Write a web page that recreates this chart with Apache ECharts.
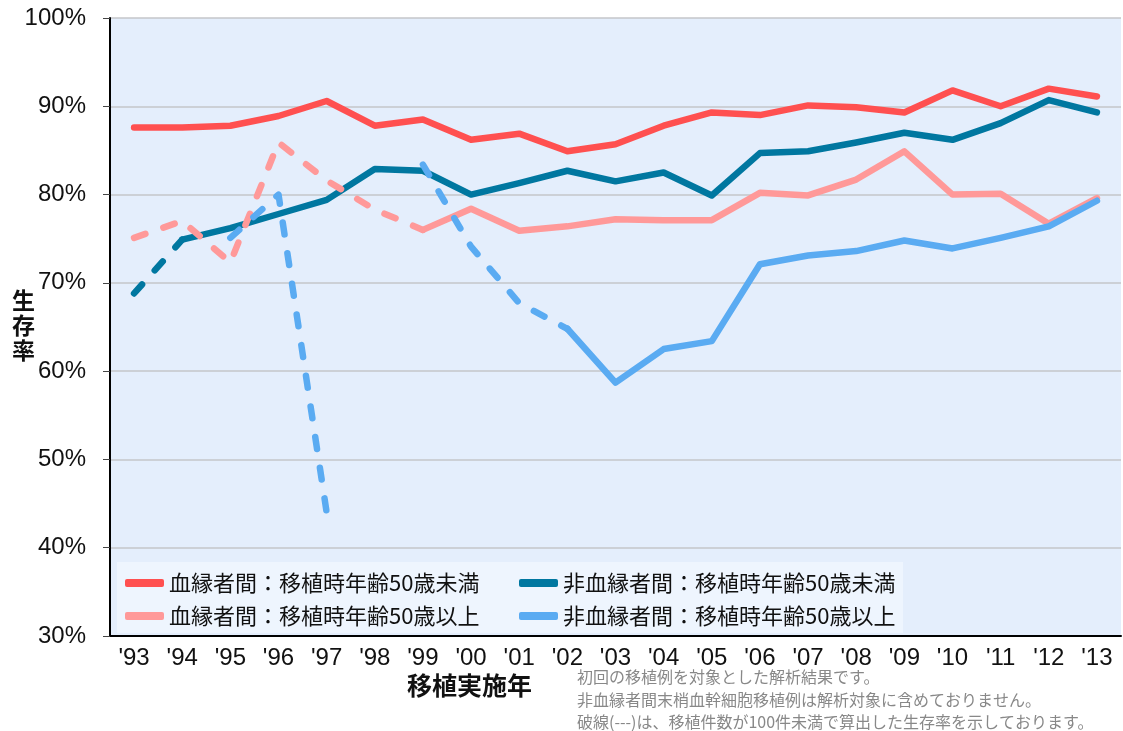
<!DOCTYPE html>
<html>
<head>
<meta charset="utf-8">
<script src="https://cdn.jsdelivr.net/npm/echarts@6/dist/echarts.min.js"></script>
<style>
  html, body { margin: 0; padding: 0; background: #fff; }
  #chart { width: 1123px; height: 731px; }
</style>
</head>
<body>
<div id="chart"></div>
<script>
const years = ["'93", "'94", "'95", "'96", "'97", "'98", "'99", "'00", "'01", "'02", "'03",
  "'04", "'05", "'06", "'07", "'08", "'09", "'10", "'11", "'12", "'13"]

const yTicks = [30, 40, 50, 60, 70, 80, 90, 100]

// 血縁者間：移植時年齢50歳未満
const relatedUnder50 = [87.6, 87.6, 87.8, 88.9, 90.6, 87.8, 88.5, 86.2, 86.9, 84.9, 85.7,
  87.8, 89.3, 89.0, 90.1, 89.9, 89.3, 91.8, 90.0, 92.0, 91.1]
// 非血縁者間：移植時年齢50歳未満
const unrelatedUnder50 = [68.8, 74.9, 76.2, 77.8, 79.4, 82.9, 82.7, 80.0, 81.3, 82.7, 81.5,
  82.5, 79.9, 84.7, 84.9, 85.9, 87.0, 86.2, 88.1, 90.7, 89.3]
// 血縁者間：移植時年齢50歳以上
const relatedOver50 = [75.1, 77.0, 72.3, 85.9, 81.6, 78.3, 76.0, 78.4, 75.9, 76.4, 77.2,
  77.1, 77.1, 80.2, 79.9, 81.7, 84.9, 80.0, 80.1, 76.7, 79.6]
// 非血縁者間：移植時年齢50歳以上
const unrelatedOver50 = [null, null, 75.1, 80.0, 44.0, null, 83.4, 74.1, 67.7, 64.8, 58.7,
  62.5, 63.4, 72.1, 73.1, 73.6, 74.8, 73.9, 75.1, 76.4, 79.3]

// last index drawn dashed (fewer than 100 cases)
const dashEnd = [-1, 1, 6, 9]

const names = [
  '血縁者間：移植時年齢50歳未満',
  '非血縁者間：移植時年齢50歳未満',
  '血縁者間：移植時年齢50歳以上',
  '非血縁者間：移植時年齢50歳以上'
]
const colors = ['#ff5050', '#0077a0', '#ff9999', '#5aabf2']
const allData = [relatedUnder50, unrelatedUnder50, relatedOver50, unrelatedOver50]

const jp = '"Noto Sans CJK JP", "Liberation Sans", sans-serif'
const latin = '"Liberation Sans", Arial, sans-serif'

const series = []
allData.forEach((data, k) => {
  const end = dashEnd[k]
  const base = {
    name: names[k],
    type: 'line',
    symbol: 'none',
    color: colors[k],
    connectNulls: false,
    z: 2 + k,
    emphasis: { disabled: true }
  }
  series.push(Object.assign({}, base, {
    data: data.map((v, i) => (i >= Math.max(end, 0) ? v : null)),
    lineStyle: { width: 6.5, color: colors[k], cap: 'round', join: 'round' }
  }))
  if (end > 0) {
    series.push(Object.assign({}, base, {
      data: data.map((v, i) => (i <= end ? v : null)),
      lineStyle: { width: 6.5, color: colors[k], type: [12, 19], cap: 'round', join: 'round' }
    }))
  }
})

const legendBase = {
  orient: 'vertical',
  top: 567,
  itemWidth: 39,
  itemHeight: 8,
  itemGap: 11,
  icon: 'roundRect',
  selectedMode: false,
  textStyle: { fontFamily: jp, fontSize: 22, color: '#111' }
}

const chart = echarts.init(document.getElementById('chart'))
chart.setOption({
  animation: false,
  backgroundColor: '#fff',
  grid: {
    left: 110, right: 2, top: 18, bottom: 95,
    show: true, backgroundColor: '#e4eefc', borderWidth: 0
  },
  legend: [
    Object.assign({}, legendBase, { left: 120, data: [names[0], names[2]] }),
    Object.assign({}, legendBase, { left: 514, data: [names[1], names[3]] })
  ],
  xAxis: {
    type: 'category',
    data: years,
    boundaryGap: true,
    axisLine: { lineStyle: { color: '#000', width: 2 } },
    axisTick: { alignWithLabel: true, length: 6, lineStyle: { color: '#222' } },
    axisLabel: { fontFamily: latin, fontSize: 24, color: '#111', margin: 10 }
  },
  yAxis: {
    type: 'value',
    min: yTicks[0],
    max: yTicks[yTicks.length - 1],
    interval: 10,
    axisLine: { show: true, lineStyle: { color: '#000', width: 2 } },
    axisTick: { show: true, length: 7, lineStyle: { color: '#444' } },
    axisLabel: { fontFamily: latin, fontSize: 24, color: '#111', margin: 24, formatter: '{value}%' },
    splitLine: { lineStyle: { color: '#c4c6ca', width: 1.5 } }
  },
  graphic: [
    {
      type: 'rect', z: 3, silent: true,
      shape: { x: 117, y: 562, width: 786, height: 71 },
      style: { fill: '#eef5fe' }
    },
    {
      type: 'text', left: 12, top: 288, z: 5,
      style: { text: '生\n存\n率', font: 'bold 23px ' + jp, fill: '#111', lineHeight: 25 }
    },
    {
      type: 'text', left: 407, top: 673, z: 5,
      style: { text: '移植実施年', font: 'bold 25px ' + jp, fill: '#111' }
    },
    {
      type: 'text', left: 577, top: 666, z: 5,
      style: {
        text: '初回の移植例を対象とした解析結果です。\n非血縁者間末梢血幹細胞移植例は解析対象に含めておりません。\n破線(---)は、移植件数が100件未満で算出した生存率を示しております。',
        font: '16px ' + jp, fill: '#888', lineHeight: 22.5
      }
    }
  ],
  series: series
})
</script>
</body>
</html>
